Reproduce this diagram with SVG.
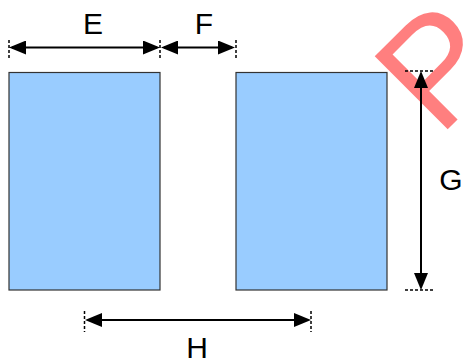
<svg xmlns="http://www.w3.org/2000/svg" width="463" height="363" viewBox="0 0 463 363">
  <style>
    .box { fill: #99ccff; stroke: #333333; stroke-width: 1.2; }
    .dim { stroke: #000; stroke-width: 2; fill: none; marker-start: url(#ah); marker-end: url(#ah); }
    .ext { stroke: #000; stroke-width: 1.5; stroke-dasharray: 3 2; fill: none; }
    .lbl { font-family: "Liberation Sans", Arial, sans-serif; font-size: 30px; fill: #000; text-anchor: middle; }
    .wm { font-family: "Liberation Sans", Arial, sans-serif; font-size: 150px; fill: #ff0000; fill-opacity: 0.5; }
  </style>
  <defs>
    <marker id="ah" viewBox="0 0 17 14" refX="14" refY="7" markerWidth="17" markerHeight="14" orient="auto-start-reverse" markerUnits="userSpaceOnUse">
      <path d="M0,0 L17,7 L0,14 z" fill="#000"/>
    </marker>
  </defs>
  <rect width="463" height="363" fill="#ffffff"/>
  <g id="watermark">
    <text class="wm" transform="translate(439,138) rotate(-45)" x="0" y="0">P</text>
  </g>
  <g id="box-left">
    <rect class="box" x="9" y="72.5" width="151" height="217.5"/>
  </g>
  <g id="box-right">
    <rect class="box" x="236" y="72.5" width="151" height="217.5"/>
  </g>
  <g id="connectors">
    <line class="ext" x1="9" y1="40" x2="9" y2="60"/>
    <line class="ext" x1="160" y1="40" x2="160" y2="60"/>
    <line class="ext" x1="236" y1="40" x2="236" y2="60"/>
    <line class="dim" x1="12" y1="47.5" x2="157" y2="47.5"/>
    <line class="dim" x1="164" y1="47.5" x2="232" y2="47.5"/>
    <line class="ext" x1="405" y1="71" x2="433" y2="71"/>
    <line class="ext" x1="405" y1="290" x2="433" y2="290"/>
    <line class="dim" x1="421" y1="74" x2="421" y2="287"/>
    <line class="ext" x1="84.5" y1="311" x2="84.5" y2="332"/>
    <line class="ext" x1="311" y1="311" x2="311" y2="332"/>
    <line class="dim" x1="88" y1="320" x2="308" y2="320"/>
  </g>
  <g id="label-E"><text class="lbl" x="93" y="34">E</text></g>
  <g id="label-F"><text class="lbl" x="204" y="34">F</text></g>
  <g id="label-G"><text class="lbl" x="451" y="190">G</text></g>
  <g id="label-H"><text class="lbl" x="197" y="358">H</text></g>
</svg>
